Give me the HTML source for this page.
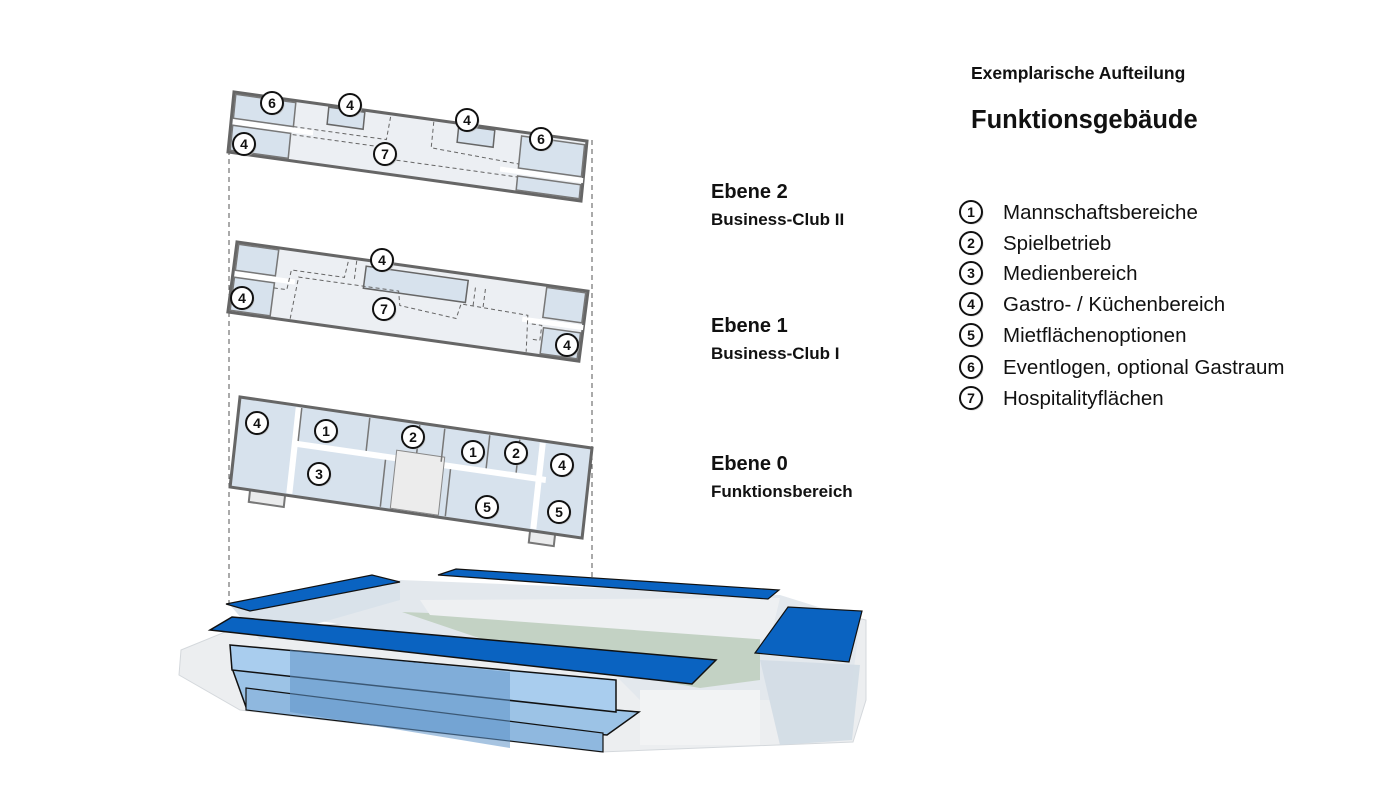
<!DOCTYPE html>
<html><head><meta charset="utf-8"><style>
html,body{margin:0;padding:0;background:#fff;}
svg{display:block}
text{font-family:"Liberation Sans",Arial,sans-serif;fill:#111}
</style></head><body>
<svg width="1380" height="786" viewBox="0 0 1380 786" xmlns="http://www.w3.org/2000/svg">
<defs>
<g id="c"><circle cx="1.5" cy="1.5" r="11" fill="#bbb" opacity=".6"/><circle r="11" fill="#fff" stroke="#111" stroke-width="2"/></g>
</defs>
<line x1="229" y1="150" x2="229" y2="605" stroke="#555" stroke-width="1" stroke-dasharray="5,4"/>
<line x1="592" y1="140" x2="592" y2="600" stroke="#555" stroke-width="1" stroke-dasharray="5,4"/>

<g transform="matrix(1,0.139,-0.1,1,234,92)">
<rect x="0" y="0" width="353" height="60" fill="#eceff3" stroke="#666" stroke-width="3"/>
<rect x="2" y="2" width="60" height="24" fill="#d7e2ed" stroke="#777" stroke-width="1.5"/>
<rect x="2" y="33" width="58" height="25" fill="#d7e2ed" stroke="#777" stroke-width="1.5"/>
<rect x="2" y="27" width="80" height="5" fill="#fff"/>
<rect x="288" y="4" width="63" height="32" fill="#d7e2ed" stroke="#777" stroke-width="1.5"/>
<rect x="288" y="44" width="63" height="14" fill="#d7e2ed" stroke="#777" stroke-width="1.5"/>
<rect x="270" y="37" width="83" height="5" fill="#fff"/>
<rect x="95" y="2" width="36" height="17" fill="#d7e2ed" stroke="#666" stroke-width="1.5"/>
<rect x="225" y="2" width="36" height="17" fill="#d7e2ed" stroke="#666" stroke-width="1.5"/>
<path d="M62 26 L155 26 L157 2 M62 34 L150 34 M200 2 L200 28 L288 32 M160 45 L288 45" fill="none" stroke="#666" stroke-width="1" stroke-dasharray="4,3"/>
</g>
<g transform="matrix(1,0.14,-0.13,1,237,242)">
<rect x="0" y="0" width="351" height="70" fill="#eceff3" stroke="#666" stroke-width="3"/>
<rect x="2" y="2" width="40" height="26" fill="#d7e2ed" stroke="#777" stroke-width="1.5"/>
<rect x="2" y="35" width="40" height="33" fill="#d7e2ed" stroke="#777" stroke-width="1.5"/>
<rect x="2" y="29" width="60" height="5" fill="#fff"/>
<rect x="130" y="6" width="102" height="22" fill="#d7e2ed" stroke="#666" stroke-width="1.5"/>
<rect x="310" y="2" width="39" height="30" fill="#d7e2ed" stroke="#777" stroke-width="1.5"/>
<rect x="312" y="42" width="37" height="26" fill="#d7e2ed" stroke="#777" stroke-width="1.5"/>
<rect x="290" y="34" width="61" height="5" fill="#fff"/>
<path d="M42 40 L55 40 L57 20 L110 20 L112 2 M62 68 L65 26 L165 26 L168 40 L225 45 L228 30 L295 32 L298 68 M120 2 L120 20 M240 30 L240 10 M250 30 L250 10 M300 40 L310 40 L310 55 L300 55" fill="none" stroke="#666" stroke-width="1" stroke-dasharray="4,3"/>
</g>
<g transform="matrix(1,0.145,-0.11,1,240,397)">
<rect x="20" y="88" width="35" height="14" fill="#eaebec" stroke="#777" stroke-width="2"/>
<rect x="300" y="88" width="25" height="14" fill="#eaebec" stroke="#777" stroke-width="2"/>
<rect x="0" y="0" width="352" height="90" fill="#d7e2ed" stroke="#666" stroke-width="3"/>
<rect x="56" y="2" width="6" height="86" fill="#fff"/>
<rect x="60" y="35" width="250" height="6" fill="#fff"/>
<rect x="300" y="2" width="6" height="86" fill="#fff"/>
<rect x="160" y="30" width="48" height="58" fill="#ececec" stroke="#888" stroke-width="1"/>
<path d="M62 2 V35 M130 2 V35 M180 2 V30 M205 2 V35 M250 2 V35 M280 2 V35 M150 41 V88 M215 41 V88" stroke="#777" stroke-width="1.5"/>
</g>

<g font-size="14" font-weight="bold" text-anchor="middle">
<use href="#c" x="272" y="103"/><text x="272" y="108">6</text>
<use href="#c" x="350" y="105"/><text x="350" y="110">4</text>
<use href="#c" x="467" y="120"/><text x="467" y="125">4</text>
<use href="#c" x="541" y="139"/><text x="541" y="144">6</text>
<use href="#c" x="244" y="144"/><text x="244" y="149">4</text>
<use href="#c" x="385" y="154"/><text x="385" y="159">7</text>
<use href="#c" x="382" y="260"/><text x="382" y="265">4</text>
<use href="#c" x="242" y="298"/><text x="242" y="303">4</text>
<use href="#c" x="384" y="309"/><text x="384" y="314">7</text>
<use href="#c" x="567" y="345"/><text x="567" y="350">4</text>
<use href="#c" x="257" y="423"/><text x="257" y="428">4</text>
<use href="#c" x="326" y="431"/><text x="326" y="436">1</text>
<use href="#c" x="413" y="437"/><text x="413" y="442">2</text>
<use href="#c" x="473" y="452"/><text x="473" y="457">1</text>
<use href="#c" x="516" y="453"/><text x="516" y="458">2</text>
<use href="#c" x="562" y="465"/><text x="562" y="470">4</text>
<use href="#c" x="319" y="474"/><text x="319" y="479">3</text>
<use href="#c" x="487" y="507"/><text x="487" y="512">5</text>
<use href="#c" x="559" y="512"/><text x="559" y="517">5</text>
</g>

<!-- Stadium -->
<polygon points="181,650 230,630 780,600 866,620 866,700 853,742 600,752 240,710 179,675" fill="#eceef0" stroke="#d4d8dc" stroke-width="1"/>
<polygon points="240,610 400,580 780,595 860,620 850,700 640,700 600,660" fill="#e3e8ed"/>
<polygon points="230,605 260,640 400,600 400,582" fill="#d9e2ea"/>
<polygon points="402,612 760,625 760,680 700,688 550,662" fill="#c3d2c4"/>
<polygon points="420,600 780,598 770,640 430,615" fill="#eef0f2"/>
<polygon points="760,660 860,665 852,740 780,745" fill="#d2dbe4" opacity=".9"/>
<polygon points="640,690 760,690 760,745 640,745" fill="#f2f3f4"/>
<polygon points="232,668 616,710 639,712 607,735 246,707" fill="#9cc3e6" stroke="#111" stroke-width="1.5"/>
<polygon points="246,688 603,733 603,752 246,710" fill="#8fb8df" stroke="#111" stroke-width="1.2"/>
<polygon points="230,645 616,680 616,712 232,670" fill="#a9cdee" stroke="#111" stroke-width="1.5"/>
<polygon points="290,650 510,672 510,748 290,712" fill="#5f93c9" opacity=".55"/>
<polygon points="226,604 372,575 400,582 250,611" fill="#0a63c1" stroke="#111" stroke-width="1.2"/>
<polygon points="438,575 456,569 779,590 768,599" fill="#0a63c1" stroke="#111" stroke-width="1.2"/>
<polygon points="755,653 788,607 862,611 849,662" fill="#0a63c1" stroke="#111" stroke-width="1.2"/>
<polygon points="210,630 232,617 716,660 692,684" fill="#0a63c1" stroke="#111" stroke-width="1.5"/>

<text x="971" y="79" font-size="17.5" font-weight="bold">Exemplarische Aufteilung</text>
<text x="971" y="128" font-size="25.5" font-weight="bold">Funktionsgebäude</text>
<text x="711" y="198" font-size="20" font-weight="bold">Ebene 2</text>
<text x="711" y="225" font-size="17" font-weight="bold">Business-Club  II</text>
<text x="711" y="332" font-size="20" font-weight="bold">Ebene 1</text>
<text x="711" y="359" font-size="17" font-weight="bold">Business-Club  I</text>
<text x="711" y="470" font-size="20" font-weight="bold">Ebene 0</text>
<text x="711" y="497" font-size="17" font-weight="bold">Funktionsbereich</text>

<g font-size="20.5">
<text x="1003" y="219">Mannschaftsbereiche</text>
<text x="1003" y="250">Spielbetrieb</text>
<text x="1003" y="280">Medienbereich</text>
<text x="1003" y="311">Gastro-  / Küchenbereich</text>
<text x="1003" y="342">Mietflächenoptionen</text>
<text x="1003" y="374">Eventlogen,  optional  Gastraum</text>
<text x="1003" y="405">Hospitalityflächen</text>
</g>
<g font-size="14" font-weight="bold" text-anchor="middle">
<use href="#c" x="971" y="212"/><text x="971" y="217">1</text>
<use href="#c" x="971" y="243"/><text x="971" y="248">2</text>
<use href="#c" x="971" y="273"/><text x="971" y="278">3</text>
<use href="#c" x="971" y="304"/><text x="971" y="309">4</text>
<use href="#c" x="971" y="335"/><text x="971" y="340">5</text>
<use href="#c" x="971" y="367"/><text x="971" y="372">6</text>
<use href="#c" x="971" y="398"/><text x="971" y="403">7</text>
</g>
</svg>
</body></html>
